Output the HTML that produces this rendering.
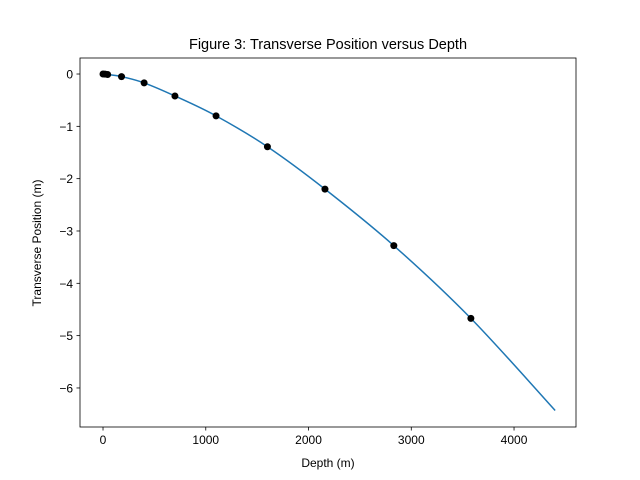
<!DOCTYPE html>
<html><head><meta charset="utf-8">
<style>
body{margin:0;background:#fff;}
svg{display:block;font-family:"Liberation Sans","DejaVu Sans",sans-serif;}
</style></head>
<body>
<svg id="chart" width="640" height="480">
<rect x="0" y="0" width="640" height="480" fill="#fff"/>
<text x="328" y="49" font-size="14.5" text-anchor="middle">Figure 3: Transverse Position versus Depth</text>
<g id="plot"></g>
<text x="328" y="467" font-size="12" text-anchor="middle">Depth (m)</text>
<text transform="translate(41,243) rotate(-90)" font-size="12" text-anchor="middle">Transverse Position (m)</text>
</svg>
<script>
const curveX=[0,20,45,180,400,700,1100,1600,2160,2830,3580,4400];
const curveY=[0,-0.002,-0.01,-0.05,-0.17,-0.42,-0.8,-1.39,-2.2,-3.28,-4.67,-6.43];
const pointX=[0,20,45,180,400,700,1100,1600,2160,2830,3580];
const pointY=[0,-0.002,-0.01,-0.05,-0.17,-0.42,-0.8,-1.39,-2.2,-3.28,-4.67];
const xTicks=[0,1000,2000,3000,4000];
const yTicks=[0,-1,-2,-3,-4,-5,-6];

const L=80,R=576,T=58,B=427;
const xMin=-224,xMax=4603,yMin=-6.746,yMax=0.306;
const sx=v=>L+(v-xMin)/(xMax-xMin)*(R-L);
const sy=v=>B-(v-yMin)/(yMax-yMin)*(B-T);
const NS="http://www.w3.org/2000/svg";
const g=document.getElementById('plot');
function mk(t,a){const e=document.createElementNS(NS,t);for(const k in a)e.setAttribute(k,a[k]);g.appendChild(e);return e;}

// curve (catmull-rom)
const P=curveX.map((x,i)=>[sx(x),sy(curveY[i])]);
let d="M"+P[0][0]+","+P[0][1];
for(let i=0;i<P.length-1;i++){
 const p0=P[Math.max(0,i-1)],p1=P[i],p2=P[i+1],p3=P[Math.min(P.length-1,i+2)];
 const c1=[p1[0]+(p2[0]-p0[0])/6,p1[1]+(p2[1]-p0[1])/6];
 const c2=[p2[0]-(p3[0]-p1[0])/6,p2[1]-(p3[1]-p1[1])/6];
 d+=` C${c1[0]},${c1[1]} ${c2[0]},${c2[1]} ${p2[0]},${p2[1]}`;
}
const line=mk('path',{d:d,fill:'none',stroke:'#1f77b4','stroke-width':1.5});



pointX.forEach((x,i)=>{
 const c=mk('circle',{cx:sx(x),cy:sy(pointY[i]),r:3.5,fill:'#000'});
 
 
});

xTicks.forEach(v=>{
 const x=sx(v);
 const t=mk('line',{x1:x,x2:x,y1:B,y2:B+3.5,stroke:'#000','stroke-width':0.8});
 
 
 const l=mk('text',{x:x,y:B+17,'font-size':12,'text-anchor':'middle'});
 l.textContent=v;
 
 
});
yTicks.forEach(v=>{
 const y=sy(v);
 const t=mk('line',{x1:L-3.5,x2:L,y1:y,y2:y,stroke:'#000','stroke-width':0.8});
 
 
 const l=mk('text',{x:L-7,y:y+4.5,'font-size':12,'text-anchor':'end'});
 l.textContent=v<0?'\u2212'+Math.abs(v):v;
 
 
});
const fr=mk('rect',{x:L,y:T,width:R-L,height:B-T,fill:'none',stroke:'#000','stroke-width':0.8});


</script>
</body></html>
